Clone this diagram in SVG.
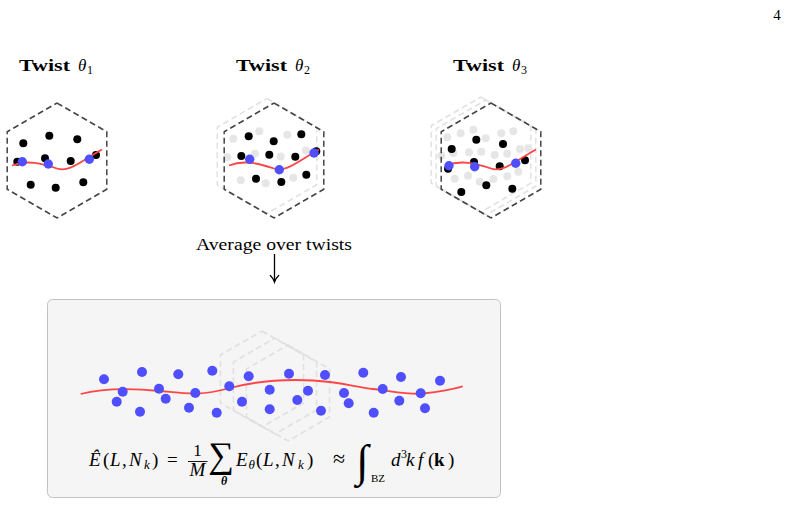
<svg xmlns="http://www.w3.org/2000/svg" xmlns:xlink="http://www.w3.org/1999/xlink" width="788" height="505" viewBox="0 0 788 505">
<style>
.hexd{fill:none;stroke:#444;stroke-width:1.5;stroke-dasharray:6 3.5}
.hexl{fill:none;stroke:#e2e2e2;stroke-width:1.5;stroke-dasharray:6 3.5}
.hexb{fill:none;stroke:#e0e0e0;stroke-width:1.5;stroke-dasharray:6 3.5}
.curve{fill:none;stroke:#ff4545;stroke-width:1.8}
.blk{fill:#000}
.gry{fill:#e6e6e6}
.blu{fill:#4f4fff}
.serif{font-family:"Liberation Serif","DejaVu Serif",serif;fill:#000}
.it{font-style:italic}
.bd{font-weight:bold}
</style>
<defs>
<polygon id="hex" points="0,-57.5 49.8,-28.75 49.8,28.75 0,57.5 -49.8,28.75 -49.8,-28.75"/>
<polygon id="hexs" points="0,-48 41.57,-24 41.57,24 0,48 -41.57,24 -41.57,-24"/>
<path id="wave" d="M-45,5 C-30,-1 -15,3 0,8 C12,12 22,2 45,-11"/>
<g id="p1">
<circle cx="-7.7" cy="-24.8" r="4"/><circle cx="20.3" cy="-21.2" r="4"/><circle cx="-33.7" cy="-17.2" r="4"/><circle cx="-12" cy="-2.2" r="4"/><circle cx="13.7" cy="0.5" r="4"/><circle cx="39" cy="-5.5" r="4"/><circle cx="-39.7" cy="1.2" r="4"/><circle cx="-26.3" cy="24.2" r="4"/><circle cx="-1.3" cy="27.2" r="4"/><circle cx="26.3" cy="21.8" r="4"/>
</g>
<g id="p2">
<circle cx="-25.3" cy="-24.2" r="4"/><circle cx="-0.3" cy="-19.2" r="4"/><circle cx="27.3" cy="-26.2" r="4"/><circle cx="-32.7" cy="-4.5" r="4"/><circle cx="-4.7" cy="-5.8" r="4"/><circle cx="21.3" cy="-3.8" r="4"/><circle cx="42.3" cy="-9.2" r="4"/><circle cx="-18" cy="18.2" r="4"/><circle cx="7.3" cy="21.5" r="4"/><circle cx="32.3" cy="14.2" r="4"/>
</g>
<g id="p3">
<circle cx="-14.7" cy="-20.8" r="4"/><circle cx="12" cy="-16.5" r="4"/><circle cx="-39.3" cy="-11.5" r="4"/><circle cx="-17" cy="1.5" r="4"/><circle cx="8.7" cy="5.8" r="4"/><circle cx="34" cy="-0.2" r="4"/><circle cx="-43" cy="8.2" r="4"/><circle cx="-29.7" cy="31.5" r="4"/><circle cx="-4.7" cy="24.8" r="4"/><circle cx="21.3" cy="28.2" r="4"/>
</g>
</defs>

<text class="serif" x="777" y="20" font-size="15" text-anchor="middle">4</text>

<g id="twist1">
<text class="serif bd" x="19" y="71" font-size="17" textLength="51" lengthAdjust="spacingAndGlyphs">Twist</text>
<text class="serif it" x="78" y="71" font-size="17">θ</text>
<text class="serif" x="87" y="74" font-size="12">1</text>
<use xlink:href="#hex" class="hexd" transform="translate(57,160.5)"/>
<use xlink:href="#p1" class="blk" transform="translate(57,160.5)"/>
<use xlink:href="#wave" class="curve" transform="translate(57,160.5)"/>
<g class="blu" transform="translate(57,160.5)"><circle cx="-34.7" cy="1.2" r="4.7"/><circle cx="-8.7" cy="3.5" r="4.7"/><circle cx="32.3" cy="-1.2" r="4.7"/></g>
</g>

<g id="twist2">
<text class="serif bd" x="236" y="71" font-size="17" textLength="51" lengthAdjust="spacingAndGlyphs">Twist</text>
<text class="serif it" x="295" y="71" font-size="17">θ</text>
<text class="serif" x="304" y="74" font-size="12">2</text>
<use xlink:href="#hex" class="hexl" transform="translate(267,156)"/>
<use xlink:href="#p1" class="gry" transform="translate(267,156)"/>
<use xlink:href="#hex" class="hexd" transform="translate(274,160.5)"/>
<use xlink:href="#p2" class="blk" transform="translate(274,160.5)"/>
<use xlink:href="#wave" class="curve" transform="translate(274,160.5)"/>
<g class="blu" transform="translate(274,160.5)"><circle cx="-24.3" cy="-1.2" r="4.7"/><circle cx="5.3" cy="9.2" r="4.7"/><circle cx="40" cy="-7.5" r="4.7"/></g>
</g>

<g id="twist3">
<text class="serif bd" x="453" y="71" font-size="17" textLength="51" lengthAdjust="spacingAndGlyphs">Twist</text>
<text class="serif it" x="512" y="71" font-size="17">θ</text>
<text class="serif" x="521" y="74" font-size="12">3</text>
<use xlink:href="#hex" class="hexl" transform="translate(481,154.5)"/>
<use xlink:href="#hex" class="hexl" transform="translate(486,157.5)"/>
<use xlink:href="#p1" class="gry" transform="translate(481,154.5)"/>
<use xlink:href="#p2" class="gry" transform="translate(486,157.5)"/>
<use xlink:href="#hex" class="hexd" transform="translate(491,160.5)"/>
<use xlink:href="#p3" class="blk" transform="translate(491,160.5)"/>
<use xlink:href="#wave" class="curve" transform="translate(491,160.5)"/>
<g class="blu" transform="translate(491,160.5)"><circle cx="-42" cy="5.2" r="4.7"/><circle cx="-16.3" cy="6.2" r="4.7"/><circle cx="24.7" cy="2.8" r="4.7"/></g>
</g>

<g id="average-label">
<text class="serif" x="196" y="250" font-size="16" textLength="156" lengthAdjust="spacingAndGlyphs">Average over twists</text>
</g>

<g id="connectors" fill="none" stroke="#000" stroke-width="1.3">
<line x1="274.5" y1="254" x2="274.5" y2="281"/>
<path d="M270.3,275.5 Q273.5,278.5 274.5,282 Q275.5,278.5 278.7,275.5" stroke-linecap="round"/>
</g>

<g id="average-box">
<rect x="47.5" y="299.5" width="453" height="198" rx="5" fill="#f5f5f5" stroke="#c2c2c2" stroke-width="1"/>
<use xlink:href="#hexs" class="hexb" transform="translate(262,379)"/>
<use xlink:href="#hexs" class="hexb" transform="translate(275,386)"/>
<use xlink:href="#hexs" class="hexb" transform="translate(288,393)"/>
<path class="curve" d="M80.7,394 C100,389 130,388 160,391 S200,396 230,388 S285,379 313,380.5 S355,387 373,389 S410,395 423,393.5 S450,390 462.7,386.3"/>
<g class="blu">
<circle cx="104" cy="379.3" r="5"/><circle cx="142" cy="372" r="5"/><circle cx="122.7" cy="391.7" r="5"/><circle cx="116.7" cy="401.7" r="5"/><circle cx="140" cy="411.7" r="5"/><circle cx="178.3" cy="374.3" r="5"/><circle cx="159" cy="388.7" r="5"/><circle cx="165.7" cy="398.7" r="5"/><circle cx="189" cy="407.7" r="5"/><circle cx="195.3" cy="393" r="5"/><circle cx="212.3" cy="370.7" r="5"/><circle cx="216.7" cy="412.7" r="5"/><circle cx="229.3" cy="386.3" r="5"/><circle cx="248.7" cy="376.3" r="5"/><circle cx="242" cy="401.7" r="5"/><circle cx="269.7" cy="389.7" r="5"/><circle cx="269.7" cy="409.3" r="5"/><circle cx="289" cy="373.7" r="5"/><circle cx="297.3" cy="400" r="5"/><circle cx="308" cy="390.7" r="5"/><circle cx="325" cy="375" r="5"/><circle cx="321" cy="410.7" r="5"/><circle cx="344" cy="393" r="5"/><circle cx="348.7" cy="403.3" r="5"/><circle cx="363.3" cy="372.7" r="5"/><circle cx="373.7" cy="412.7" r="5"/><circle cx="382.7" cy="389" r="5"/><circle cx="401" cy="377" r="5"/><circle cx="399.3" cy="400.7" r="5"/><circle cx="420.7" cy="393.3" r="5"/><circle cx="425" cy="408.3" r="5"/><circle cx="440" cy="380.7" r="5"/>
</g>
<g id="formula" class="serif" font-size="19">
<text class="it" x="89" y="466">Ê</text>
<text x="103" y="466">(</text>
<text class="it" x="110" y="466">L</text>
<text x="122" y="466">,</text>
<text class="it" x="129" y="466">N</text>
<text class="it" x="144" y="469" font-size="13">k</text>
<text x="152" y="466">)</text>
<text x="167" y="466">=</text>
<text x="197.5" y="455.5" font-size="17" text-anchor="middle">1</text>
<line x1="188" y1="461.5" x2="207.5" y2="461.5" stroke="#000" stroke-width="0.9"/>
<text class="it" x="197.5" y="476" text-anchor="middle">M</text>
<text x="221" y="467" font-size="36" text-anchor="middle">∑</text>
<text class="it bd" x="224" y="485" font-size="12" text-anchor="middle">θ</text>
<text class="it" x="236" y="466">E</text>
<text class="it" x="248.5" y="469" font-size="13">θ</text>
<text x="256" y="466">(</text>
<text class="it" x="263" y="466">L</text>
<text x="275" y="466">,</text>
<text class="it" x="282" y="466">N</text>
<text class="it" x="298" y="469" font-size="13">k</text>
<text x="307" y="466">)</text>
<text x="333" y="466" font-size="22">≈</text>
<text class="it" x="356" y="476" font-size="45">∫</text>
<text x="371" y="482" font-size="11">BZ</text>
<text class="it" x="391" y="466">d</text>
<text x="401" y="458" font-size="12">3</text>
<text class="it" x="406" y="466">k</text>
<text class="it" x="418" y="466">f</text>
<text x="428" y="466">(</text>
<text class="bd" x="434" y="466">k</text>
<text x="448" y="466">)</text>
</g>
</g>
</svg>
